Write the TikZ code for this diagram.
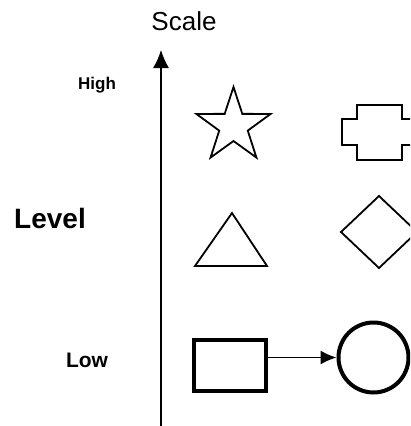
\documentclass[tikz,border=0pt]{standalone}
\usepackage{fontspec}
\setmainfont{Liberation Sans}
\usetikzlibrary{shapes.geometric,arrows.meta}

\begin{document}
\begin{tikzpicture}[x=1pt,y=-1pt,>=Latex,
    thinshape/.style={draw,line width=1.8pt,line join=miter},
    thickshape/.style={draw,line width=4pt,inner sep=0pt}]
    \useasboundingbox (0,0) rectangle (410,426);
    \clip (0,0) rectangle (410,426);

    % Vertical scale axis with its labels.
    \coordinate (axbot) at (161,426);
    \coordinate (axtop) at (161,50);
    \draw[line width=1.3pt,-{Latex[length=18pt,width=16pt]}] (axbot) -- (axtop);
    \node[font=\fontsize{26}{30}\selectfont] (scale) at (184,21.5) {Scale};
    \node[font=\fontsize{28}{32}\selectfont\bfseries] (level) at (50,218.5) {Level};
    \node[font=\fontsize{17}{20}\selectfont\bfseries,anchor=base] (high) at (97,89) {High};
    \node[font=\fontsize{21}{24}\selectfont\bfseries,anchor=base] (low) at (87,367) {Low};

    % High row: star and cross.
    \node[thinshape,star,star points=5,star point ratio=2.6,
          minimum size=78pt,inner sep=0pt] (star) at (233.5,126) {};
    \draw[thinshape] (357,105) -- (402,105) -- (402,119) -- (417,119)
        -- (417,145) -- (402,145) -- (402,160) -- (357,160) -- (357,145)
        -- (342,145) -- (342,119) -- (357,119) -- cycle;

    % Middle row: triangle and diamond.
    \draw[thinshape] (195,266) -- (232,213) -- (267,266) -- cycle;
    \draw[thinshape] (379,196) -- (417,232) -- (379,268) -- (341,232) -- cycle;

    % Low row: box feeding the circle.
    \node[thickshape,rectangle,minimum width=72pt,minimum height=51pt] (box) at (230,365.5) {};
    \node[thickshape,circle,minimum size=70pt] (circ) at (373.5,357.5) {};
    \draw[line width=1.5pt,-{Latex[length=16pt,width=14pt]}] (box.east |- circ.west) -- (circ.west);
\end{tikzpicture}
\end{document}
